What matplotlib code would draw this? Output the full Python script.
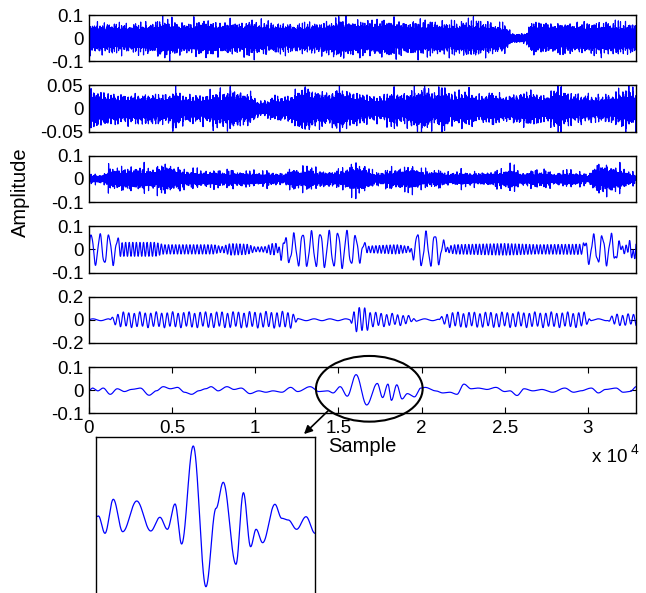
import numpy as np
import matplotlib
matplotlib.use("Agg")
import matplotlib.pyplot as plt
from matplotlib.patches import Ellipse, FancyArrowPatch

W, H = 646, 593
N_SAMPLES = 32900
X_TICKS = [0, 5000, 10000, 15000, 20000, 25000, 30000]
X_TICK_LABELS = ["0", "0.5", "1", "1.5", "2", "2.5", "3"]
Y_LIMITS = [0.1, 0.05, 0.1, 0.1, 0.2, 0.1]
Y_TICK_LABELS = [
    ["-0.1", "0", "0.1"],
    ["-0.05", "0", "0.05"],
    ["-0.1", "0", "0.1"],
    ["-0.1", "0", "0.1"],
    ["-0.2", "0", "0.2"],
    ["-0.1", "0", "0.1"],
]

# envelope breakpoints: position (x1000 samples), amplitude
ENV1_POS = [0, 1, 2, 3, 4, 4.6, 5.2, 6, 7, 8, 9, 10, 11, 12, 13, 14, 15, 16, 17,
            18, 19, 20, 21, 22, 23, 24, 25, 25.4, 26.3, 26.6, 27, 28, 29, 30, 31,
            32, 32.9]
ENV1_AMP = [0.034, 0.032, 0.032, 0.032, 0.034, 0.045, 0.034, 0.032, 0.038, 0.032,
            0.034, 0.038, 0.032, 0.032, 0.032, 0.034, 0.042, 0.038, 0.036, 0.04,
            0.034, 0.037, 0.034, 0.034, 0.04, 0.034, 0.03, 0.01, 0.01, 0.036,
            0.032, 0.032, 0.032, 0.032, 0.036, 0.034, 0.033]

ENV2_POS = [0, 1, 2, 3, 4, 4.8, 5.2, 5.6, 7, 7.6, 8, 8.5, 9, 9.8, 10.1, 10.7, 11,
            12, 12.6, 13.1, 13.5, 14, 14.5, 15, 15.5, 16, 17, 17.7, 18.3, 18.8,
            19.6, 20.3, 20.8, 21.3, 21.7, 22.8, 23.5, 24.3, 25, 26, 26.5, 27.5,
            28.3, 28.7, 29.5, 30.5, 31.5, 32, 32.5, 32.9]
ENV2_AMP = [0.03, 0.024, 0.021, 0.022, 0.022, 0.02, 0.032, 0.02, 0.02, 0.027,
            0.024, 0.03, 0.024, 0.022, 0.011, 0.011, 0.018, 0.018, 0.03, 0.034,
            0.026, 0.027, 0.022, 0.034, 0.026, 0.024, 0.018, 0.018, 0.029, 0.02,
            0.029, 0.032, 0.022, 0.036, 0.022, 0.027, 0.018, 0.025, 0.018, 0.023,
            0.026, 0.018, 0.036, 0.023, 0.02, 0.018, 0.02, 0.027, 0.03, 0.026]

ENV3_POS = [0, 0.9, 1.2, 2, 3, 4, 4.6, 5.2, 5.8, 7, 8, 9, 10, 11, 11.7, 12.3, 12.7,
            13.3, 13.7, 15, 16, 16.6, 17.2, 18, 18.8, 19.5, 20.3, 21, 21.5, 22.5,
            23.5, 24.5, 25.5, 26, 26.7, 27.3, 28, 28.7, 29.5, 30, 30.5, 31.3, 32,
            32.9]
ENV3_AMP = [0.012, 0.012, 0.03, 0.028, 0.03, 0.028, 0.04, 0.028, 0.024, 0.02,
            0.022, 0.02, 0.018, 0.018, 0.012, 0.032, 0.021, 0.036, 0.02, 0.021,
            0.04, 0.032, 0.015, 0.024, 0.028, 0.032, 0.02, 0.024, 0.015, 0.02,
            0.015, 0.02, 0.032, 0.015, 0.021, 0.024, 0.015, 0.02, 0.018, 0.01,
            0.036, 0.036, 0.028, 0.012]

# panel 4: slow and fast components
ENV4_SLOW_POS = [0, 1.6, 2.0, 11.2, 11.8, 12.8, 15.5, 16.3, 16.8, 19.3, 19.7, 21.0,
                 21.6, 29.6, 30.0, 31.5, 32.2, 32.9]
ENV4_SLOW_AMP = [0.065, 0.06, 0.0, 0.0, 0.05, 0.07, 0.075, 0.05, 0.0, 0.0, 0.07,
                 0.065, 0.0, 0.0, 0.055, 0.06, 0.0, 0.04]
ENV4_FAST_POS = [0, 1.6, 2.0, 4.0, 4.5, 7.5, 8.0, 8.5, 9.5, 10.0, 10.6, 11.0, 11.5,
                 12.5, 16.5, 17.0, 18.5, 19.3, 21.5, 22.0, 25.0, 27.0, 29.5, 30.0,
                 32.0, 32.9]
ENV4_FAST_AMP = [0.005, 0.01, 0.03, 0.03, 0.02, 0.02, 0.012, 0.025, 0.022, 0.01,
                 0.012, 0.025, 0.02, 0.01, 0.01, 0.015, 0.02, 0.012, 0.012, 0.02,
                 0.025, 0.02, 0.022, 0.012, 0.015, 0.03]

ENV5_POS = [0, 1.2, 1.8, 12.2, 12.6, 15.7, 16.0, 16.6, 17.0, 19.0, 19.8, 21.0,
            21.6, 29.8, 30.2, 31.2, 31.6, 32.9]
ENV5_AMP = [0.0, 0.0, 0.06, 0.065, 0.0, 0.0, 0.1, 0.1, 0.06, 0.04, 0.0, 0.0,
            0.06, 0.06, 0.0, 0.0, 0.045, 0.045]

# panel 6: extrema (sample, value)
P6_POS = [0, 213, 532, 851, 1277, 1702, 2128, 2553, 3085, 3617, 4043, 4468, 4894,
          5319, 5745, 6170, 6596, 7021, 7340, 7766, 8298, 8723, 9149, 9681, 10213,
          10638, 11064, 11596, 12128, 12553, 13298, 13830, 14362, 14681, 15106,
          15532, 16064, 16702, 17340, 17660, 17979, 18191, 18511, 18830, 19149,
          19574, 19957, 20213, 20851, 21277, 21702, 22128, 22553, 22979, 23404,
          23936, 24468, 25000, 25319, 25745, 26170, 26702, 27234, 27872, 28617,
          29149, 29574, 30213, 30638, 31064, 31702, 32128, 32553, 32915]
P6_VAL = [0.0, 0.009, -0.003, 0.009, -0.018, 0.006, -0.006, 0.003, 0.009, -0.022,
          -0.003, 0.015, 0.006, 0.012, -0.009, -0.018, -0.003, 0.006, 0.015,
          -0.003, 0.015, 0.003, 0.009, -0.015, -0.003, -0.009, -0.003, -0.009,
          0.012, -0.006, 0.015, -0.006, -0.003, -0.012, 0.015, -0.026, 0.067,
          -0.064, 0.029, -0.032, 0.026, -0.044, 0.023, -0.038, -0.015, -0.029,
          0.009, 0.012, -0.003, -0.012, -0.009, -0.018, 0.026, 0.006, 0.009,
          0.003, 0.012, -0.006, -0.003, -0.023, 0.006, -0.003, 0.003, -0.009,
          0.009, -0.009, -0.003, 0.009, -0.012, 0.003, 0.009, -0.009, -0.006,
          0.015]

# zoomed inset: extrema (sample, value)
INSET_POS = [13800, 13868, 14054, 14290, 14556, 14953, 15350, 15610, 15821, 16038,
             16224, 16553, 16912, 17198, 17402, 17762, 17973, 18177, 18332, 18518,
             18865, 19058, 19244, 19479, 19746, 20000]
INSET_VAL = [0.0033, 0.004, -0.0133, 0.0207, -0.0117, 0.019, -0.011, 0.0027,
             -0.0093, 0.016, -0.024, 0.074, -0.0667, 0.0117, 0.0377, -0.0443,
             0.0273, -0.0267, -0.0093, -0.0227, 0.0157, 0.0017, 0.0, -0.0093,
             0.0033, -0.0133]


def envelope(pos_k, amp, n):
    return np.interp(n, np.asarray(pos_k) * 1000.0, amp)


def extrema_curve(pos, val, n):
    pos = np.asarray(pos, float)
    val = np.asarray(val, float)
    idx = np.clip(np.searchsorted(pos, n, side="right") - 1, 0, len(pos) - 2)
    t = np.clip((n - pos[idx]) / (pos[idx + 1] - pos[idx]), 0, 1)
    w = (1 - np.cos(np.pi * t)) / 2
    return val[idx] + (val[idx + 1] - val[idx]) * w


def texture(n, periods, mod_periods, level):
    # dense fill normalised to ~1, with narrow bursts reaching ~1.8
    c = np.zeros_like(n, dtype=float)
    for i, p in enumerate(periods):
        c += np.sin(2 * np.pi * n / p + 1.3 * i) / (1 + 0.3 * i)
    c /= np.percentile(np.abs(c), level)
    s = np.abs(np.sin(2 * np.pi * n / mod_periods[0])
               * np.sin(2 * np.pi * n / mod_periods[1] + 0.7))
    return c * (0.85 + 0.95 * s ** 2)


def main() -> None:
    plt.rcParams["font.family"] = ["Liberation Sans", "DejaVu Sans"]
    n = np.arange(N_SAMPLES, dtype=float)

    signals = [
        envelope(ENV1_POS, ENV1_AMP, n) * texture(n, (4.3, 6.7, 9.1, 13.9), (290, 121), 92),
        envelope(ENV2_POS, ENV2_AMP, n) * texture(n, (3.7, 5.9, 8.3, 16.1), (410, 173), 99),
        envelope(ENV3_POS, ENV3_AMP, n) * texture(n, (23, 31, 41), (530, 227), 90),
        envelope(ENV4_SLOW_POS, ENV4_SLOW_AMP, n) * np.sin(2 * np.pi * n / 530)
        + envelope(ENV4_FAST_POS, ENV4_FAST_AMP, n) * np.sin(2 * np.pi * n / 215),
        envelope(ENV5_POS, ENV5_AMP, n) * np.sin(2 * np.pi * n / 330)
        + 0.008 * np.sin(2 * np.pi * n / 950),
        extrema_curve(P6_POS, P6_VAL, n),
    ]

    fig = plt.figure(figsize=(W / 100, H / 100), dpi=100)
    left, width, height = 89 / W, (636 - 89) / W, 46.3 / H
    for i, (sig, lim, labels) in enumerate(zip(signals, Y_LIMITS, Y_TICK_LABELS)):
        top = 15 + 70.4 * i
        ax = fig.add_axes([left, 1 - (top + 46.3) / H, width, height])
        ax.plot(n, sig, color="#0000ff", lw=0.85)
        ax.set_xlim(0, N_SAMPLES)
        ax.set_ylim(-lim, lim)
        ax.set_yticks([-lim, 0, lim], labels)
        ax.tick_params(direction="in", length=4, right=True, top=True,
                       labelsize=13.5, pad=4)
        for spine in ax.spines.values():
            spine.set_linewidth(1.0)
        if i < 5:
            ax.set_xticks([])
        else:
            ax.set_xticks(X_TICKS, X_TICK_LABELS)
            ax.tick_params(axis="x", pad=5)

    fig.text(20 / W, 1 - 192 / H, "Amplitude", rotation=90, ha="center",
             va="center", fontsize=14.5)
    fig.text(362 / W, 1 - 447 / H, "Sample", ha="center", va="center", fontsize=14.5)
    fig.text(592 / W, 1 - 462 / H, "x 10", ha="left", va="baseline", fontsize=13.5)
    fig.text(631 / W, 1 - 454 / H, "4", ha="left", va="baseline", fontsize=10)

    fig.add_artist(Ellipse((369.3 / W, 1 - 388.8 / H), 106.7 / W, 65.7 / H,
                           transform=fig.transFigure, fill=False, ec="black", lw=1.5))
    fig.add_artist(FancyArrowPatch((330 / W, 1 - 409 / H), (302 / W, 1 - 436 / H),
                                   transform=fig.transFigure, arrowstyle="-|>",
                                   mutation_scale=12, color="black", lw=1.2))

    inset = fig.add_axes([96 / W, 1 - 605 / H, 219 / W, 168 / H])
    xi = np.linspace(INSET_POS[0], INSET_POS[-1], 2000)
    inset.plot(xi, extrema_curve(INSET_POS, INSET_VAL, xi), color="#0000ff", lw=0.9)
    inset.set_xlim(INSET_POS[0], INSET_POS[-1])
    inset.set_ylim(-0.085, 0.083)
    inset.set_xticks([])
    inset.set_yticks([])
    for spine in inset.spines.values():
        spine.set_linewidth(1.0)

    fig.savefig("out.png", dpi=100)


if __name__ == "__main__":
    main()
